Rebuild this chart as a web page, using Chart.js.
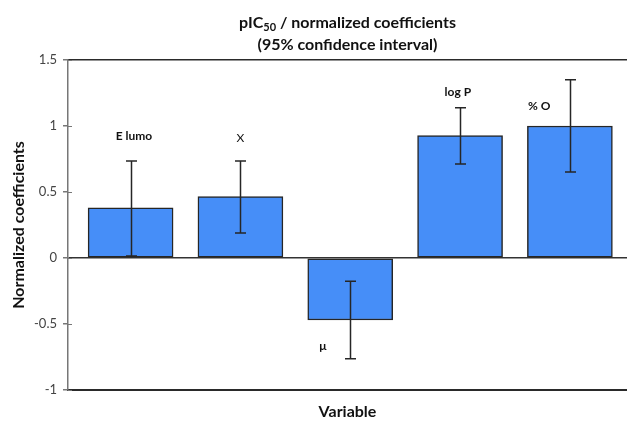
<!DOCTYPE html>
<html>
<head>
<meta charset="utf-8">
<script src="https://cdn.jsdelivr.net/npm/chart.js@4.4.1/dist/chart.umd.min.js"></script>
<style>
  html, body { margin: 0; padding: 0; background: #fff; }
  #wrap { width: 627px; height: 421px; }
</style>
</head>
<body>
<div id="wrap"><canvas id="myChart"></canvas></div>
<script>
// data
const categories = ["E lumo", "X", "μ", "log P", "% O"];
const coefficients = [0.38, 0.465, -0.47, 0.927, 1.0];
const ciLow = [0.015, 0.19, -0.763, 0.712, 0.652];
const ciHigh = [0.735, 0.735, -0.177, 1.139, 1.351];
// where each variable name sits (in axis units)
const labelX = [1.03, 2.0, 2.75, 3.98, 4.72];
const labelY = [0.92, 0.91, -0.67, 1.26, 1.15];
const yTicks = [-1, -0.5, 0, 0.5, 1, 1.5];

const titleMain = "pIC";
const titleSub = "50";
const titleRest = " / normalized coefficients";
const titleLine2 = "(95% confidence interval)";

const fontFamily = "Lato, 'Open Sans', 'DejaVu Sans', sans-serif";

const errorBars = {
  id: "errorBars",
  afterDatasetsDraw(chart) {
    const ctx = chart.ctx;
    const xs = chart.scales.x;
    const ys = chart.scales.y;
    ctx.save();
    ctx.strokeStyle = "#262626";
    ctx.lineWidth = 1.5;
    for (let i = 0; i < categories.length; i++) {
      const px = Math.round(xs.getPixelForValue(i + 1)) + 0.5;
      const lo = ys.getPixelForValue(ciLow[i]);
      const hi = ys.getPixelForValue(ciHigh[i]);
      ctx.beginPath();
      ctx.moveTo(px, lo);
      ctx.lineTo(px, hi);
      ctx.moveTo(px - 5.5, lo);
      ctx.lineTo(px + 5.5, lo);
      ctx.moveTo(px - 5.5, hi);
      ctx.lineTo(px + 5.5, hi);
      ctx.stroke();
    }
    // small ticks crossing the y axis
    ctx.strokeStyle = "#777";
    ctx.lineWidth = 1;
    const ax = chart.chartArea.left;
    yTicks.forEach((v) => {
      const py = Math.round(ys.getPixelForValue(v)) + 0.5;
      ctx.beginPath();
      ctx.moveTo(ax, py);
      ctx.lineTo(ax + 4, py);
      ctx.stroke();
    });
    // variable names
    ctx.fillStyle = "#111";
    ctx.textAlign = "center";
    ctx.textBaseline = "middle";
    for (let i = 0; i < categories.length; i++) {
      ctx.font = (categories[i] === "X" ? "" : "bold ") + "12px " + fontFamily;
      ctx.fillText(categories[i], xs.getPixelForValue(labelX[i]), ys.getPixelForValue(labelY[i]));
    }
    ctx.restore();
  }
};

const titlePlugin = {
  id: "twoLineTitle",
  afterDraw(chart) {
    const ctx = chart.ctx;
    const area = chart.chartArea;
    const cx = (area.left + area.right) / 2;
    ctx.save();
    ctx.fillStyle = "#111";
    ctx.textBaseline = "middle";
    ctx.textAlign = "left";
    const big = "bold 16px " + fontFamily;
    const small = "bold 11px " + fontFamily;
    ctx.font = big;
    const w1 = ctx.measureText(titleMain).width;
    const w3 = ctx.measureText(titleRest).width;
    ctx.font = small;
    const w2 = ctx.measureText(titleSub).width;
    let x = cx - (w1 + w2 + w3) / 2;
    ctx.font = big;
    ctx.fillText(titleMain, x, 23);
    x += w1;
    ctx.font = small;
    ctx.fillText(titleSub, x, 27);
    x += w2;
    ctx.font = big;
    ctx.fillText(titleRest, x, 23);
    ctx.textAlign = "center";
    ctx.fillText(titleLine2, cx, 45);
    ctx.restore();
  }
};

new Chart(document.getElementById("myChart"), {
  type: "bar",
  data: {
    datasets: [
      {
        label: "Normalized coefficients",
        data: coefficients.map((v, i) => ({ x: i + 1, y: v })),
        backgroundColor: "#468ef8",
        borderColor: "#262626",
        borderWidth: 1.5,
        borderSkipped: false,
        barThickness: 85,
      },
    ],
  },
  options: {
    responsive: true,
    maintainAspectRatio: false,
    animation: false,
    layout: {
      padding: { top: 60, right: 0, left: 0, bottom: 0 },
    },
    plugins: {
      legend: { display: false },
      tooltip: { enabled: false },
      title: { display: false },
    },
    scales: {
      x: {
        type: "linear",
        position: "bottom",
        offset: false,
        min: 0.43,
        max: 5.52,
        ticks: { display: false },
        grid: { display: false },
        border: { display: true, color: "#2a2a2a", width: 2 },
        title: {
          display: true,
          text: "Variable",
          color: "#111",
          font: { family: fontFamily, size: 16, weight: "bold" },
          padding: { top: 0, bottom: 0 },
        },
        afterFit(scale) {
          scale.height = 31;
        },
      },
      xTop: {
        type: "linear",
        position: "top",
        offset: false,
        ticks: { display: false },
        grid: { display: false },
        border: { display: true, color: "#2a2a2a", width: 1.5 },
        afterFit(scale) {
          scale.height = 0;
        },
      },
      y: {
        min: -1,
        max: 1.5,
        afterBuildTicks(scale) {
          scale.ticks = yTicks.map((v) => ({ value: v }));
        },
        ticks: {
          color: "#444",
          padding: 6,
          font: { family: fontFamily, size: 13 },
          callback: (v) => String(v),
        },
        grid: {
          drawOnChartArea: true,
          color: (c) => (c.tick && c.tick.value === 0 ? "#333" : "rgba(0,0,0,0)"),
          lineWidth: 1.5,
          tickLength: 5,
          tickColor: "#777",
        },
        border: { display: true, color: "#777", width: 1.5 },
        title: {
          display: true,
          text: "Normalized coefficients",
          color: "#111",
          font: { family: fontFamily, size: 16, weight: "bold" },
          padding: { top: 9, bottom: 0 },
        },
        afterFit(scale) {
          scale.width = 68;
        },
      },
    },
  },
  plugins: [errorBars, titlePlugin],
});
</script>
</body>
</html>
